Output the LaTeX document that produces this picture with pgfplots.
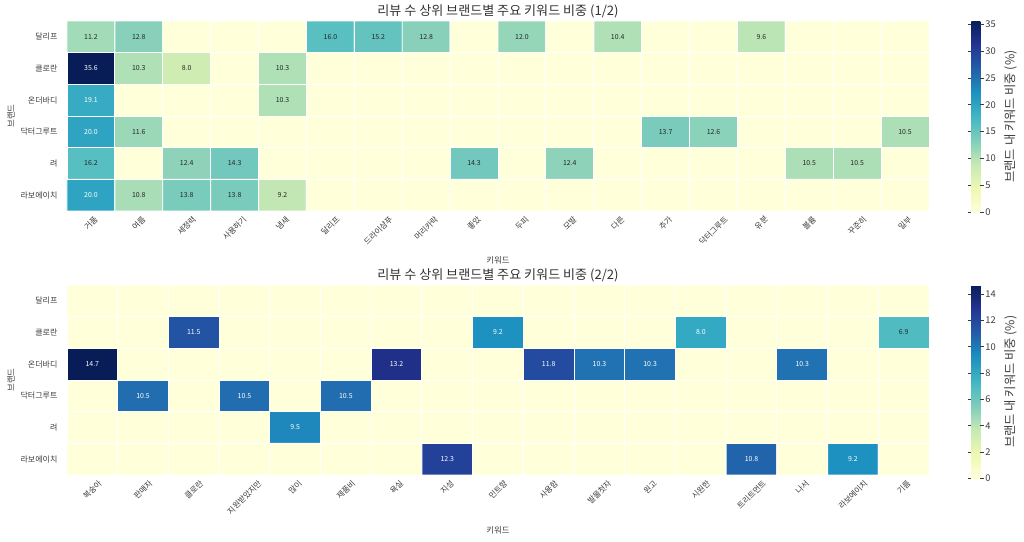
\documentclass[border=0pt]{standalone}
\usepackage{fontspec}
\setmainfont{Noto Sans CJK KR}
\usepackage{graphicx}
\usepackage{pgfplots}
\pgfplotsset{compat=1.18}
\definecolor{txt}{HTML}{3C3C3C}
\definecolor{ann}{HTML}{262626}
\pgfplotsset{
  /pgf/number format/assume math mode=true,
  colormap={ylgnbu}{rgb255=(255,255,217) rgb255=(237,248,177) rgb255=(199,233,180) rgb255=(127,205,187) rgb255=(65,182,196) rgb255=(29,145,192) rgb255=(34,94,168) rgb255=(37,52,148) rgb255=(8,29,88)},
  cell/.style={matrix plot*, shader=faceted, faceted color=white, line width=0.7pt, point meta=explicit},
  lbl/.style={draw=none, mark=none, point meta=explicit symbolic, nodes near coords,
      every node near coord/.append style={anchor=center, inner sep=0pt, font=\fontsize{5.2}{6}\selectfont, text=#1}},
  hm/.style={
    scale only axis, width=646.5pt, height=142.5pt, anchor=north west,
    y dir=reverse, ymin=-0.5, ymax=5.5, xmin=-0.5,
    enlargelimits=false,
    axis line style={draw=none}, major tick length=0pt,
    ytick={0,...,5}, yticklabels={달리프,클로란,온더바디,닥터그루트,려,라보에이치},
    tick label style={font=\fontsize{6}{7}\selectfont, text=txt},
    xticklabel style={anchor=north, inner sep=0pt, yshift=-3pt},
    yticklabel style={anchor=east, inner sep=0pt, xshift=-7pt},
    colormap name=ylgnbu, colorbar,
    title style={font=\fontsize{9.8}{11}\selectfont, text=black!80, at={(axis description cs:0.5,1)}, anchor=center, yshift=1.5pt},
    ylabel={브랜드},
    ylabel style={font=\fontsize{6.3}{7}\selectfont, text=txt, at={(axis description cs:0,0.5)}, anchor=center, yshift=42pt},
    xlabel={키워드},
    xlabel style={font=\fontsize{6.3}{7}\selectfont, text=txt, at={(axis description cs:0.5,0)}, anchor=center},
  },
  cb/.style={colorbar style={at={(parent axis.north east)}, anchor=north west, xshift=23.25pt,
      scale only axis, width=6.75pt, height=#1,
      axis line style={draw=none}, yticklabel pos=right, tick align=outside,
      major tick length=2.5pt, tick style={color=txt, line width=0.5pt},
      tick label style={font=\fontsize{7}{8}\selectfont, text=txt},
      yticklabel style={inner sep=1pt, anchor=west, xshift=0pt},
      ylabel={브랜드 내 키워드 비중 (\%)},
      ylabel style={font=\fontsize{9.2}{10}\selectfont, text=txt, at={(axis description cs:1,0.5)}, anchor=center, yshift=-22.5pt},
  }},
}
\newcommand\rl[1]{\rotatebox{45}{#1}}
\begin{document}
\begin{tikzpicture}
\useasboundingbox (0pt,0pt) rectangle (768pt,-406.5pt);
% ---------- top heatmap ----------
\begin{axis}[hm, at={(50.25pt,-15.75pt)}, xmax=17.5,
  title={리뷰 수 상위 브랜드별 주요 키워드 비중 (1/2)},
  xlabel style={yshift=-36.75pt},
  xtick={0,...,17},
  xticklabels={\rl{거품},\rl{여름},\rl{세정력},\rl{사용하기},\rl{냄새},\rl{달리프},\rl{드라이샴푸},\rl{머리카락},\rl{좋았},\rl{두피},\rl{모발},\rl{다른},\rl{추가},\rl{닥터그루트},\rl{유분},\rl{볼륨},\rl{꾸준히},\rl{일부}},
  point meta min=0, point meta max=35.6,
  cb=143.25pt, colorbar style={ytick={0,5,...,35}},
]
\addplot[cell, mesh/cols=18] coordinates {
(0,0)[11.2] (1,0)[12.8] (2,0)[0] (3,0)[0] (4,0)[0] (5,0)[16.0] (6,0)[15.2] (7,0)[12.8] (8,0)[0] (9,0)[12.0] (10,0)[0] (11,0)[10.4] (12,0)[0] (13,0)[0] (14,0)[9.6] (15,0)[0] (16,0)[0] (17,0)[0]
(0,1)[35.6] (1,1)[10.3] (2,1)[8.0] (3,1)[0] (4,1)[10.3] (5,1)[0] (6,1)[0] (7,1)[0] (8,1)[0] (9,1)[0] (10,1)[0] (11,1)[0] (12,1)[0] (13,1)[0] (14,1)[0] (15,1)[0] (16,1)[0] (17,1)[0]
(0,2)[19.1] (1,2)[0] (2,2)[0] (3,2)[0] (4,2)[10.3] (5,2)[0] (6,2)[0] (7,2)[0] (8,2)[0] (9,2)[0] (10,2)[0] (11,2)[0] (12,2)[0] (13,2)[0] (14,2)[0] (15,2)[0] (16,2)[0] (17,2)[0]
(0,3)[20.0] (1,3)[11.6] (2,3)[0] (3,3)[0] (4,3)[0] (5,3)[0] (6,3)[0] (7,3)[0] (8,3)[0] (9,3)[0] (10,3)[0] (11,3)[0] (12,3)[13.7] (13,3)[12.6] (14,3)[0] (15,3)[0] (16,3)[0] (17,3)[10.5]
(0,4)[16.2] (1,4)[0] (2,4)[12.4] (3,4)[14.3] (4,4)[0] (5,4)[0] (6,4)[0] (7,4)[0] (8,4)[14.3] (9,4)[0] (10,4)[12.4] (11,4)[0] (12,4)[0] (13,4)[0] (14,4)[0] (15,4)[10.5] (16,4)[10.5] (17,4)[0]
(0,5)[20.0] (1,5)[10.8] (2,5)[13.8] (3,5)[13.8] (4,5)[9.2] (5,5)[0] (6,5)[0] (7,5)[0] (8,5)[0] (9,5)[0] (10,5)[0] (11,5)[0] (12,5)[0] (13,5)[0] (14,5)[0] (15,5)[0] (16,5)[0] (17,5)[0]
};
\addplot[lbl=ann] coordinates {
(0,0)[11.2] (1,0)[12.8] (5,0)[16.0] (6,0)[15.2] (7,0)[12.8] (9,0)[12.0] (11,0)[10.4] (14,0)[9.6]
(1,1)[10.3] (2,1)[8.0] (4,1)[10.3] (4,2)[10.3]
(1,3)[11.6] (12,3)[13.7] (13,3)[12.6] (17,3)[10.5]
(0,4)[16.2] (2,4)[12.4] (3,4)[14.3] (8,4)[14.3] (10,4)[12.4] (15,4)[10.5] (16,4)[10.5]
(1,5)[10.8] (2,5)[13.8] (3,5)[13.8] (4,5)[9.2]
};
\addplot[lbl=white] coordinates {
(0,1)[35.6] (0,2)[19.1] (0,3)[20.0] (0,5)[20.0]
};
\end{axis}
% ---------- bottom heatmap ----------
\begin{axis}[hm, at={(50.25pt,-213.75pt)}, xmax=16.5,
  title={리뷰 수 상위 브랜드별 주요 키워드 비중 (2/2)},
  xlabel style={yshift=-41.25pt},
  xtick={0,...,16},
  xticklabels={\rl{복숭아},\rl{판매자},\rl{클로란},\rl{지원받았지만},\rl{많이},\rl{제품비},\rl{욕실},\rl{지성},\rl{민트향},\rl{사용함},\rl{발물첫자},\rl{원고},\rl{시원한},\rl{트리트먼트},\rl{나서},\rl{라보에이치},\rl{기름}},
  point meta min=0, point meta max=14.7,
  cb=145pt, colorbar style={ytick={0,2,...,14}},
]
\addplot[cell, mesh/cols=17] coordinates {
(0,0)[0] (1,0)[0] (2,0)[0] (3,0)[0] (4,0)[0] (5,0)[0] (6,0)[0] (7,0)[0] (8,0)[0] (9,0)[0] (10,0)[0] (11,0)[0] (12,0)[0] (13,0)[0] (14,0)[0] (15,0)[0] (16,0)[0]
(0,1)[0] (1,1)[0] (2,1)[11.5] (3,1)[0] (4,1)[0] (5,1)[0] (6,1)[0] (7,1)[0] (8,1)[9.2] (9,1)[0] (10,1)[0] (11,1)[0] (12,1)[8.0] (13,1)[0] (14,1)[0] (15,1)[0] (16,1)[6.9]
(0,2)[14.7] (1,2)[0] (2,2)[0] (3,2)[0] (4,2)[0] (5,2)[0] (6,2)[13.2] (7,2)[0] (8,2)[0] (9,2)[11.8] (10,2)[10.3] (11,2)[10.3] (12,2)[0] (13,2)[0] (14,2)[10.3] (15,2)[0] (16,2)[0]
(0,3)[0] (1,3)[10.5] (2,3)[0] (3,3)[10.5] (4,3)[0] (5,3)[10.5] (6,3)[0] (7,3)[0] (8,3)[0] (9,3)[0] (10,3)[0] (11,3)[0] (12,3)[0] (13,3)[0] (14,3)[0] (15,3)[0] (16,3)[0]
(0,4)[0] (1,4)[0] (2,4)[0] (3,4)[0] (4,4)[9.5] (5,4)[0] (6,4)[0] (7,4)[0] (8,4)[0] (9,4)[0] (10,4)[0] (11,4)[0] (12,4)[0] (13,4)[0] (14,4)[0] (15,4)[0] (16,4)[0]
(0,5)[0] (1,5)[0] (2,5)[0] (3,5)[0] (4,5)[0] (5,5)[0] (6,5)[0] (7,5)[12.3] (8,5)[0] (9,5)[0] (10,5)[0] (11,5)[0] (12,5)[0] (13,5)[10.8] (14,5)[0] (15,5)[9.2] (16,5)[0]
};
\addplot[lbl=white] coordinates {
(2,1)[11.5] (8,1)[9.2] (12,1)[8.0]
(0,2)[14.7] (6,2)[13.2] (9,2)[11.8] (10,2)[10.3] (11,2)[10.3] (14,2)[10.3]
(1,3)[10.5] (3,3)[10.5] (5,3)[10.5] (4,4)[9.5]
(7,5)[12.3] (13,5)[10.8] (15,5)[9.2]
};
\addplot[lbl=ann] coordinates {
(16,1)[6.9]
};
\end{axis}
\end{tikzpicture}
\end{document}
